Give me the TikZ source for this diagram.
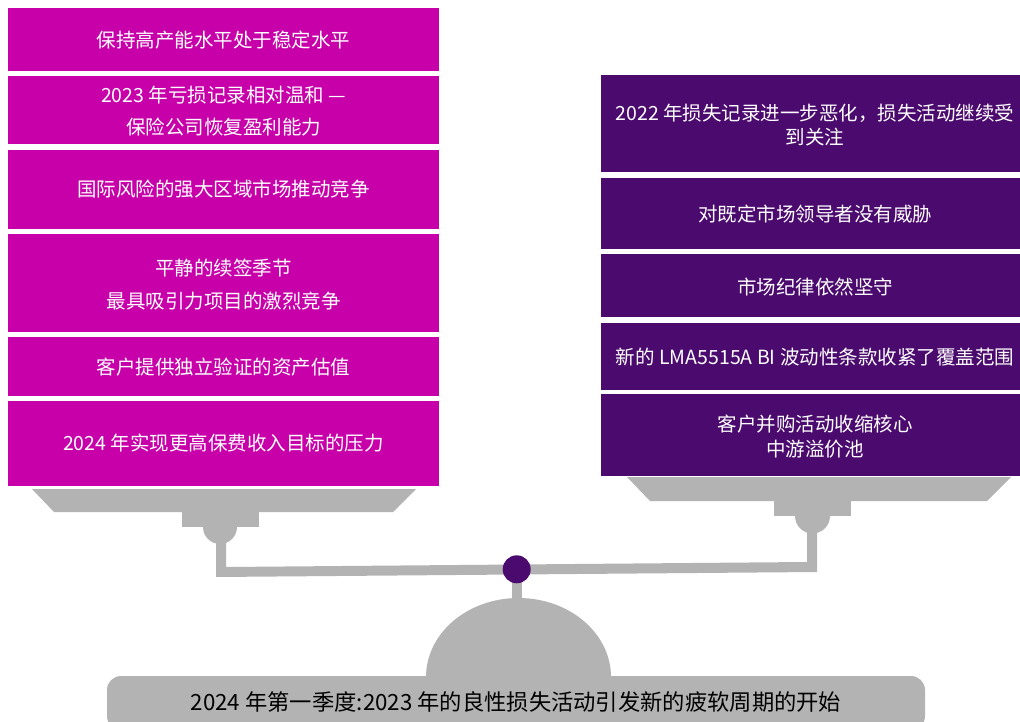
\documentclass[tikz,border=0pt]{standalone}
\usepackage{fontspec}
\setmainfont{Noto Sans CJK SC}
\begin{document}
\begin{tikzpicture}[x=1pt,y=-1pt,
  lbox/.style={fill=magL,draw=none,inner sep=0pt,text=white,align=center,font=\fontsize{19.5}{32.5}\selectfont},
  rbox/.style={fill=purR,draw=none,inner sep=0pt,text=white,align=center,font=\fontsize{19.5}{24.5}\selectfont},
  grayfill/.style={fill=grayS,draw=none}]
\definecolor{magL}{RGB}{200,0,170}
\definecolor{purR}{RGB}{75,10,110}
\definecolor{grayS}{RGB}{179,179,179}
\useasboundingbox (0,0) rectangle (1020,722);
% left boxes
\node[lbox,minimum width=431pt,minimum height=63pt] (l1) at (223.5,39.5) {};
\node[lbox,fill=none] (l1t) at (223.5,40) {保持高产能水平处于稳定水平};
\node[lbox,minimum width=431pt,minimum height=68pt] (l2) at (223.5,110) {};
\node[lbox,fill=none] (l2t) at (223.5,111) {2023 年亏损记录相对温和 —\\保险公司恢复盈利能力};
\node[lbox,minimum width=431pt,minimum height=79pt] (l3) at (223.5,189.5) {};
\node[lbox,fill=none] (l3t) at (223.5,189) {国际风险的强大区域市场推动竞争};
\node[lbox,minimum width=431pt,minimum height=98pt] (l4) at (223.5,283) {};
\node[lbox,fill=none] (l4t) at (223.5,284.5) {平静的续签季节\\最具吸引力项目的激烈竞争};
\node[lbox,minimum width=431pt,minimum height=59pt] (l5) at (223.5,366.5) {};
\node[lbox,fill=none] (l5t) at (223.5,367) {客户提供独立验证的资产估值};
\node[lbox,minimum width=431pt,minimum height=85pt] (l6) at (223.5,443.5) {};
\node[lbox,fill=none] (l6t) at (223.5,443) {2024 年实现更高保费收入目标的压力};
% right boxes
\node[rbox,minimum width=419pt,minimum height=97pt] (r1) at (810.5,123.5) {};
\node[rbox,fill=none] (r1t) at (815,125) {2022 年损失记录进一步恶化，损失活动继续受\\到关注};
\node[rbox,minimum width=419pt,minimum height=71pt] (r2) at (810.5,213.5) {};
\node[rbox,fill=none] (r2t) at (815,214) {对既定市场领导者没有威胁};
\node[rbox,minimum width=419pt,minimum height=63pt] (r3) at (810.5,285.5) {};
\node[rbox,fill=none] (r3t) at (815,287) {市场纪律依然坚守};
\node[rbox,minimum width=419pt,minimum height=67pt] (r4) at (810.5,356.5) {};
\node[rbox,fill=none] (r4t) at (815,357) {新的 LMA5515A BI 波动性条款收紧了覆盖范围};
\node[rbox,minimum width=419pt,minimum height=82pt] (r5) at (810.5,435) {};
\node[rbox,fill=none] (r5t) at (815,436.5) {客户并购活动收缩核心\\中游溢价池};
% left pan
\fill[grayS] (32,489) -- (416,489) -- (393,512) -- (54,512) -- cycle;
\fill[grayS] (182,512) rectangle (259,527);
\fill[grayS] (203,527) arc[start angle=180,end angle=0,radius=17] -- cycle;
% right pan
\fill[grayS] (627,477) -- (1011,477) -- (987,501) -- (650,501) -- cycle;
\fill[grayS] (774,501) rectangle (851,516);
\fill[grayS] (795,516) arc[start angle=180,end angle=0,radius=17.5] -- cycle;
% beam
\fill[grayS] (216,540) -- (226,540) -- (226,567) -- (807,562) -- (807,530) -- (817,530) -- (817,572) -- (216,577) -- cycle;
% dome and post
\fill[grayS] (512,580) rectangle (522,600);
\fill[grayS] (426,677) arc[start angle=180,end angle=360,x radius=92.5,y radius=79] -- cycle;
% base
\fill[grayS,rounded corners=14pt] (107,730) -- (107,676) -- (925,676) -- (925,730) -- cycle;
% pivot
\node[circle,fill=purR,minimum size=28pt,inner sep=0pt] (piv) at (516.7,569.3) {};
\node[text=black,font=\fontsize{22.3}{26}\selectfont] (base) at (516,702) {2024 年第一季度:2023 年的良性损失活动引发新的疲软周期的开始};
\end{tikzpicture}
\end{document}
